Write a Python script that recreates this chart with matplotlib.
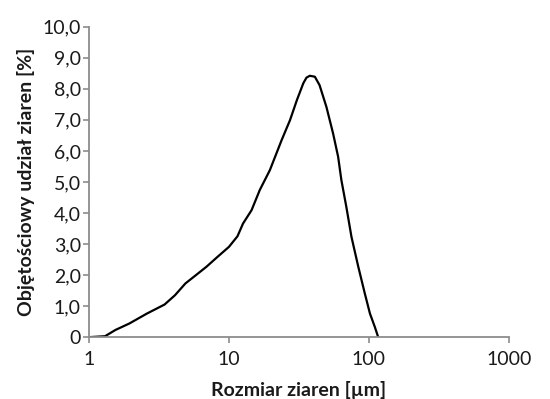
import matplotlib
matplotlib.use("Agg")
import matplotlib.pyplot as plt
from matplotlib.ticker import FixedLocator, NullLocator


# grain size [um] and volume share [%]
size_um = [1.0, 1.3, 1.54, 1.94, 2.59, 3.46, 4.11, 4.88, 5.81, 6.91, 8.2, 10.0,
           11.5, 12.6, 14.5, 16.6, 19.6, 23.8, 27.3, 30.6, 34.0, 35.8, 37.8,
           41.1, 44.4, 49.7, 55.5, 60.3, 63.6, 69.0, 75.1, 84.0, 93.5, 101.8,
           110.3, 116.6]
volume_pct = [0.0, 0.03, 0.23, 0.44, 0.76, 1.05, 1.35, 1.73, 2.0, 2.27, 2.57, 2.91,
              3.25, 3.66, 4.09, 4.74, 5.38, 6.35, 6.99, 7.64, 8.18, 8.36, 8.42,
              8.39, 8.12, 7.42, 6.56, 5.81, 5.06, 4.2, 3.23, 2.27, 1.41, 0.76,
              0.33, 0.0]

x_ticks = [1, 10, 100, 1000]
x_labels = ["1", "10", "100", "1000"]
y_ticks = [0, 1, 2, 3, 4, 5, 6, 7, 8, 9, 10]
y_labels = ["0"] + ["%d,0" % v for v in y_ticks[1:]]

plt.rcParams['font.family'] = ['Lato', 'DejaVu Sans']

fig = plt.figure(figsize=(5.5, 3.99), dpi=100)
ax = fig.add_axes([0.162, 0.155, 0.763, 0.778])

ax.plot(size_um, volume_pct, color="black", lw=1.6)

ax.set_xscale("log")
ax.set_xlim(1, 1000)
ax.set_ylim(0, 10)
ax.xaxis.set_major_locator(FixedLocator(x_ticks))
ax.xaxis.set_minor_locator(NullLocator())
ax.set_xticklabels(x_labels)
ax.set_yticks(y_ticks)
ax.set_yticklabels(y_labels)

## axis styling
axis_gray = "#8c8c8c"
for side in ["top", "right"]:
    ax.spines[side].set_visible(False)
for side in ["left", "bottom"]:
    ax.spines[side].set_color(axis_gray)
    ax.spines[side].set_linewidth(1.3)
ax.tick_params(axis="both", direction="out", length=4, width=1.2, color=axis_gray,
               labelsize=14, labelcolor="#1a1a1a", pad=2)
ax.tick_params(axis="x", pad=6)

ax.set_xlabel("Rozmiar ziaren [µm]", fontsize=14, fontweight="bold", color="#1a1a1a", labelpad=9)
ax.set_ylabel("Objętościowy udział ziaren [%]", fontsize=14, fontweight="bold", color="#1a1a1a", labelpad=5)

fig.savefig("out.png", dpi=100)
